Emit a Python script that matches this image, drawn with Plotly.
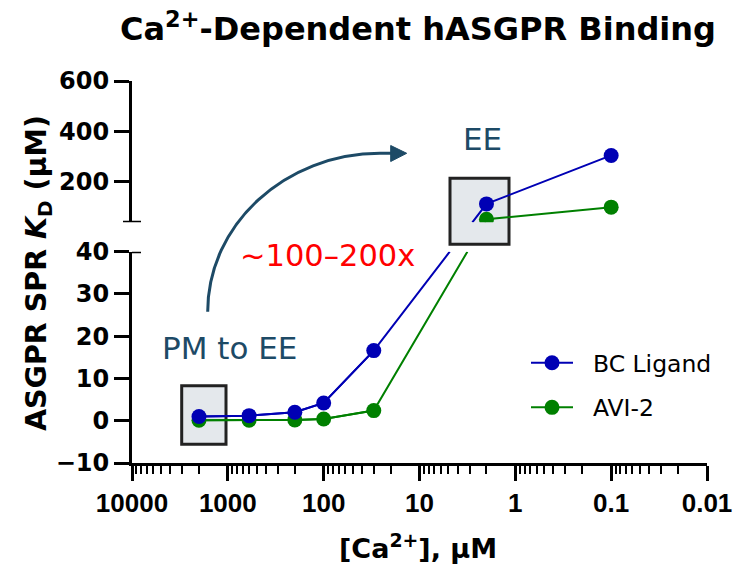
import numpy as np
import plotly.graph_objects as go

# ---------------- data ----------------
ca_um = [2000, 600, 200, 100, 30, 2, 0.1]
bc_ligand = [1.0, 1.2, 2.0, 4.2, 16.6, 113, 305]
avi_2 = [0.1, 0.1, 0.2, 0.4, 2.4, 52, 100]
series_names = ["BC Ligand", "AVI-2"]
series_values = [bc_ligand, avi_2]
series_colors = ["#0000B4", "#008000"]

x_tickvals = [10000, 1000, 100, 10, 1, 0.1, 0.01]
x_ticktext = ["10000", "1000", "100", "10", "1", "0.1", "0.01"]
y_low_ticks = [-10, 0, 10, 20, 30, 40]
y_high_ticks = [200, 400, 600]

# ---------------- layout geometry ----------------
W, H = 733, 571
ML, MR, MT, MB = 132, 26, 81, 108
PW, PH = W - ML - MR, H - MT - MB
X_LOG = [4, -2]
Y_LOW = [-10, 40]
Y_HIGH = [40, 600]
low_dom = [0.0, (463 - 251.7) / PH]
high_dom = [(463 - 222.3) / PH, 1.0]
BREAK = Y_LOW[1]

def xp(v):
    return (X_LOG[0] - np.log10(v)) / (X_LOG[0] - X_LOG[1])

def xv(p):
    return 10 ** (X_LOG[0] - p * (X_LOG[0] - X_LOG[1]))

def yp(v):
    if v <= BREAK:
        return low_dom[0] + (v - Y_LOW[0]) / (Y_LOW[1] - Y_LOW[0]) * (low_dom[1] - low_dom[0])
    return high_dom[0] + (v - Y_HIGH[0]) / (Y_HIGH[1] - Y_HIGH[0]) * (high_dom[1] - high_dom[0])

def split_series(xs, ys):
    lo_x, lo_y, hi_x, hi_y = [], [], [], []
    for i, (x, y) in enumerate(zip(xs, ys)):
        if i > 0:
            x0, y0 = xs[i - 1], ys[i - 1]
            if (y0 <= BREAK) != (y <= BREAK):
                X0, Y0, X1, Y1 = xp(x0), yp(y0), xp(x), yp(y)
                tl = (low_dom[1] - Y0) / (Y1 - Y0)
                th = (high_dom[0] - Y0) / (Y1 - Y0)
                xl = xv(X0 + tl * (X1 - X0))
                xh = xv(X0 + th * (X1 - X0))
                if y0 <= BREAK:
                    lo_x += [xl, None]; lo_y += [BREAK, None]
                    hi_x += [xh]; hi_y += [BREAK]
                else:
                    hi_x += [xh, None]; hi_y += [BREAK, None]
                    lo_x += [xl]; lo_y += [BREAK]
        if y <= BREAK:
            lo_x.append(x); lo_y.append(y)
        else:
            hi_x.append(x); hi_y.append(y)
    return lo_x, lo_y, hi_x, hi_y

fig = go.Figure()
# draw green first so blue sits on top; legend rank keeps BC Ligand first
for idx in [1, 0]:
    name, vals, col = series_names[idx], series_values[idx], series_colors[idx]
    lo_x, lo_y, hi_x, hi_y = split_series(ca_um, vals)
    fig.add_trace(go.Scatter(x=lo_x, y=lo_y, mode="lines", yaxis="y",
                             line=dict(color=col, width=2), showlegend=False,
                             hoverinfo="skip", legendgroup=name))
    fig.add_trace(go.Scatter(x=hi_x, y=hi_y, mode="lines", yaxis="y2",
                             line=dict(color=col, width=2), showlegend=False,
                             hoverinfo="skip", legendgroup=name))
    mlx = [x for x, y in zip(ca_um, vals) if y <= BREAK]
    mly = [y for y in vals if y <= BREAK]
    mhx = [x for x, y in zip(ca_um, vals) if y > BREAK]
    mhy = [y for y in vals if y > BREAK]
    fig.add_trace(go.Scatter(x=mlx, y=mly, mode="lines+markers", yaxis="y",
                             name="\u00a0\u00a0" + name,
                             line=dict(color=col, width=2),
                             marker=dict(color=col, size=15),
                             legendrank=idx + 1, legendgroup=name))
    fig.add_trace(go.Scatter(x=mhx, y=mhy, mode="markers", yaxis="y2",
                             marker=dict(color=col, size=15), showlegend=False,
                             legendgroup=name))

def PX(px):
    return (px - ML) / PW

def PY(py):
    return (H - MB - py) / PH

shapes = []
# break caps
shapes.append(dict(type="line", xref="paper", yref="y2", x0=PX(123), x1=PX(141),
                   y0=BREAK, y1=BREAK, line=dict(color="black", width=3), layer="above"))
shapes.append(dict(type="line", xref="paper", yref="y", x0=PX(132), x1=PX(141),
                   y0=BREAK, y1=BREAK, line=dict(color="black", width=3), layer="above"))
# highlight boxes
shapes.append(dict(type="rect", xref="paper", yref="paper",
                   x0=PX(181.7), x1=PX(226), y0=PY(444.3), y1=PY(385.7),
                   fillcolor="#E4E8EC", line=dict(color="#222222", width=3), layer="below"))
shapes.append(dict(type="rect", xref="paper", yref="paper",
                   x0=PX(450), x1=PX(509), y0=PY(244.3), y1=PY(178.3),
                   fillcolor="#E4E8EC", line=dict(color="#222222", width=3), layer="below"))
# curved arrow
arc = "M {},{} C {},{} {},{} {},{} L {},{}".format(
    PX(207.7), PY(311.7), PX(207.7), PY(224.6), PX(285.2), PY(153.3),
    PX(380), PY(153.3), PX(393), PY(153.3))
shapes.append(dict(type="path", xref="paper", yref="paper", path=arc,
                   line=dict(color="#1D4A66", width=3)))
tri = "M {},{} L {},{} L {},{} Z".format(PX(406.7), PY(153.3), PX(390.7), PY(145.5),
                                         PX(390.7), PY(161.5))
shapes.append(dict(type="path", xref="paper", yref="paper", path=tri,
                   fillcolor="#1D4A66", line=dict(color="#1D4A66", width=1)))

annotations = [
    dict(text="<b>Ca<sup>2+</sup>-Dependent hASGPR Binding</b>", xref="paper", yref="paper",
         x=PX(418), y=PY(27), showarrow=False, xanchor="center", yanchor="middle",
         font=dict(family="DejaVu Sans", size=32, color="black")),
    dict(text="<b>ASGPR SPR <i>K</i><sub>D</sub> (µM)</b>", xref="paper", yref="paper",
         x=PX(38), y=PY(273), showarrow=False, textangle=-90, xanchor="center",
         yanchor="middle", font=dict(family="DejaVu Sans", size=28.5, color="black")),
    dict(text="<b>[Ca<sup>2+</sup>], µM</b>", xref="paper", yref="paper",
         x=PX(418), y=PY(546), showarrow=False, xanchor="center", yanchor="middle",
         font=dict(family="DejaVu Sans", size=27, color="black")),
    dict(text="EE", xref="paper", yref="paper", x=PX(482), y=PY(139), showarrow=False,
         xanchor="center", yanchor="middle",
         font=dict(family="DejaVu Sans", size=31, color="#1D4A66")),
    dict(text="PM to EE", xref="paper", yref="paper", x=PX(229), y=PY(348), showarrow=False,
         xanchor="center", yanchor="middle",
         font=dict(family="DejaVu Sans", size=31, color="#1D4A66")),
    dict(text="~100–200x", xref="paper", yref="paper", x=PX(327), y=PY(255), showarrow=False,
         xanchor="center", yanchor="middle",
         font=dict(family="DejaVu Sans", size=30.5, color="#FF0000")),
]

minor_vals = [k * 10.0 ** e for e in range(-2, 4) for k in range(2, 10)]

fig.update_layout(
    width=W, height=H,
    margin=dict(l=ML, r=MR, t=MT, b=MB, pad=0, autoexpand=False),
    paper_bgcolor="white", plot_bgcolor="white",
    showlegend=True,
    legend=dict(x=PX(526), y=PY(341), xanchor="left", yanchor="top",
                font=dict(family="DejaVu Sans", size=23.5, color="black"),
                bgcolor="rgba(0,0,0,0)", borderwidth=0, itemwidth=42,
                traceorder="grouped", tracegroupgap=11),
    xaxis=dict(type="log", range=X_LOG, tickmode="array", tickvals=x_tickvals,
               ticktext=x_ticktext, ticks="outside", ticklen=15, tickwidth=3,
               tickcolor="black", showline=True, linewidth=3, linecolor="black",
               showgrid=False, zeroline=False, anchor="y", automargin=False,
               tickfont=dict(family="Liberation Sans", size=26, color="black", weight="bold"),
               minor=dict(tickmode="array", tickvals=minor_vals, ticks="outside",
                          ticklen=8, tickwidth=2, tickcolor="black", showgrid=False)),
    yaxis=dict(domain=low_dom, range=Y_LOW, tickmode="array", tickvals=y_low_ticks,
               ticks="outside", ticklen=15, tickwidth=3, tickcolor="black",
               showline=True, linewidth=3, linecolor="black", showgrid=False,
               zeroline=False, anchor="x", automargin=False,
               tickfont=dict(family="DejaVu Sans", size=24, color="black", weight="bold")),
    yaxis2=dict(domain=high_dom, range=Y_HIGH, tickmode="array", tickvals=y_high_ticks,
                ticks="outside", ticklen=15, tickwidth=3, tickcolor="black",
                showline=True, linewidth=3, linecolor="black", showgrid=False,
                zeroline=False, anchor="x", automargin=False,
                tickfont=dict(family="DejaVu Sans", size=24, color="black", weight="bold")),
    shapes=shapes, annotations=annotations,
)

fig.write_html("out.html")
